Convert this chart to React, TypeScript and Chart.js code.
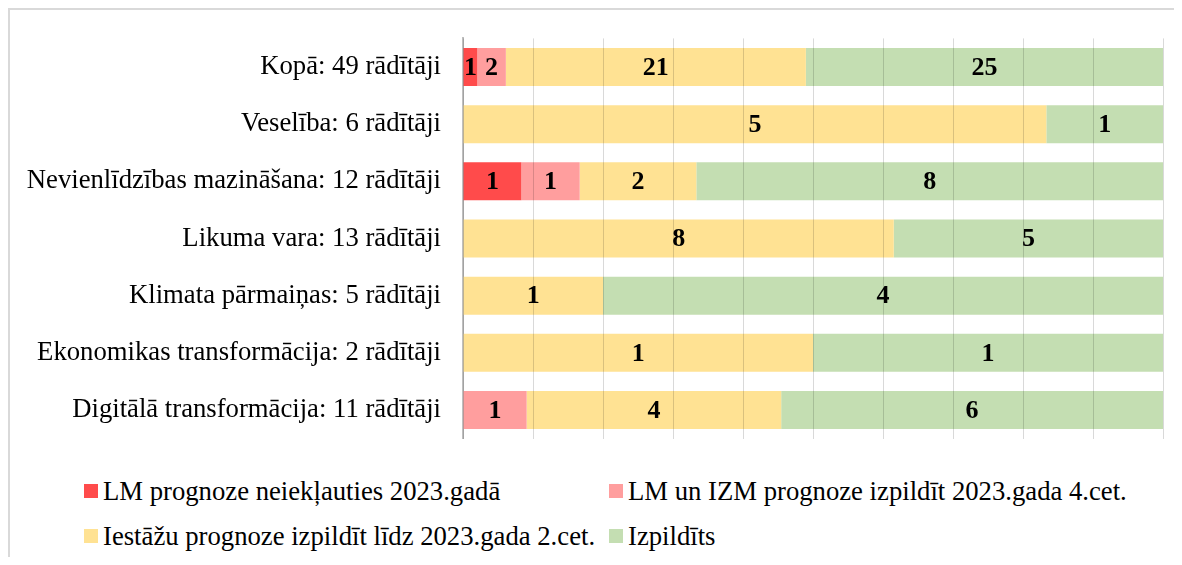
import React, { useEffect, useRef } from "react";
import { Chart, registerables } from "chart.js";

Chart.register(...registerables);

const categories = [
  "Kopā: 49 rādītāji",
  "Veselība: 6 rādītāji",
  "Nevienlīdzības mazināšana: 12 rādītāji",
  "Likuma vara: 13 rādītāji",
  "Klimata pārmaiņas: 5 rādītāji",
  "Ekonomikas transformācija: 2 rādītāji",
  "Digitālā transformācija: 11 rādītāji",
];

const seriesNames = [
  "LM prognoze neiekļauties 2023.gadā",
  "LM un IZM prognoze izpildīt 2023.gada 4.cet.",
  "Iestāžu prognoze izpildīt līdz 2023.gada 2.cet.",
  "Izpildīts",
];

const lmNeieklauties = [1, 0, 1, 0, 0, 0, 0];
const lmUnIzm = [2, 0, 1, 0, 0, 0, 1];
const iestazuPrognoze = [21, 5, 2, 8, 1, 1, 4];
const izpildits = [25, 1, 8, 5, 4, 1, 6];

const seriesColors = ["#FF4B4B", "#FF9E9E", "#FFE293", "#C4DEB2"];

const FONT = "'Liberation Serif', 'Times New Roman', serif";
const FS = 26.7;

const allSeries = [lmNeieklauties, lmUnIzm, iestazuPrognoze, izpildits];
const totals = categories.map((_, i) =>
  allSeries.reduce((s, arr) => s + arr[i], 0)
);

const labelPlugin = {
  id: "segLabels",
  afterDraw(chart: any) {
    const ctx = chart.ctx;
    ctx.save();
    ctx.font = `bold 26px ${FONT}`;
    ctx.fillStyle = "#000";
    ctx.textAlign = "center";
    ctx.textBaseline = "middle";
    chart.data.datasets.forEach((ds: any, i: number) => {
      const meta = chart.getDatasetMeta(i);
      meta.data.forEach((bar: any, j: number) => {
        const v = ds.counts[j];
        if (!v) return;
        const p = bar.getProps(["x", "y", "base"], true);
        ctx.fillText(String(v), (p.x + p.base) / 2, p.y + 1);
      });
    });
    ctx.restore();
  },
};

export default function App() {
  const ref = useRef<HTMLCanvasElement>(null);

  useEffect(() => {
    if (!ref.current) return;
    const chart = new Chart(ref.current, {
      type: "bar",
      data: {
        labels: categories,
        datasets: allSeries.map((arr, k) => ({
          label: seriesNames[k],
          data: arr.map((v, i) => (v / totals[i]) * 100),
          counts: arr,
          backgroundColor: seriesColors[k],
          borderWidth: 0,
          barPercentage: 0.665,
          categoryPercentage: 1,
        })) as any,
      },
      options: {
        indexAxis: "y",
        animation: false,
        responsive: false,
        layout: { padding: { top: 28.4, bottom: 11.4, right: 9, left: 0 } },
        plugins: {
          legend: { display: false },
          tooltip: { enabled: false },
        },
        scales: {
          x: {
            stacked: true,
            min: 0,
            max: 100,
            ticks: { display: false, stepSize: 10 },
            grid: {
              color: "rgba(0,0,0,0.15)",
              lineWidth: 1,
              drawTicks: false,
              z: 1,
            } as any,
            border: { display: false },
            afterFit: (s: any) => {
              s.height = 0;
              s.paddingLeft = 0;
              s.paddingRight = 0;
              s.paddingTop = 0;
              s.paddingBottom = 0;
            },
          },
          y: {
            stacked: true,
            grid: { display: false, drawTicks: false },
            border: { display: true, color: "#BFBFBF", width: 2 },
            ticks: {
              color: "#000",
              font: { family: FONT, size: FS },
              padding: 22,
            },
            afterFit: (s: any) => {
              s.width = 453;
              s.paddingTop = 0;
              s.paddingBottom = 0;
              s.paddingLeft = 0;
              s.paddingRight = 0;
            },
          },
        },
      },
      plugins: [labelPlugin],
    });
    return () => chart.destroy();
  }, []);

  const legendItems = [
    { name: seriesNames[0], color: seriesColors[0], x: 74, y: 481 },
    { name: seriesNames[1], color: seriesColors[1], x: 599, y: 481 },
    { name: seriesNames[2], color: seriesColors[2], x: 74, y: 526 },
    { name: seriesNames[3], color: seriesColors[3], x: 599, y: 526 },
  ];

  return (
    <div
      style={{
        position: "relative",
        width: 1174,
        height: 549,
        boxSizing: "border-box",
        borderTop: "2px solid #D9D9D9",
        borderLeft: "2px solid #D9D9D9",
        overflow: "hidden",
        background: "#fff",
      }}
    >
      <canvas
        ref={ref}
        width={1162}
        height={440}
        style={{ position: "absolute", left: 0, top: 0, width: 1162, height: 440 }}
      />
      {legendItems.map((it) => (
        <div
          key={it.name}
          style={{
            position: "absolute",
            left: it.x,
            top: it.y - 15,
            height: 30,
            display: "flex",
            alignItems: "center",
            whiteSpace: "nowrap",
            fontFamily: FONT,
            fontSize: FS,
            lineHeight: "30px",
            color: "#000",
          }}
        >
          <span
            style={{
              display: "inline-block",
              width: 14,
              height: 14,
              background: it.color,
              marginRight: 5,
            }}
          />
          <span>{it.name}</span>
        </div>
      ))}
    </div>
  );
}
